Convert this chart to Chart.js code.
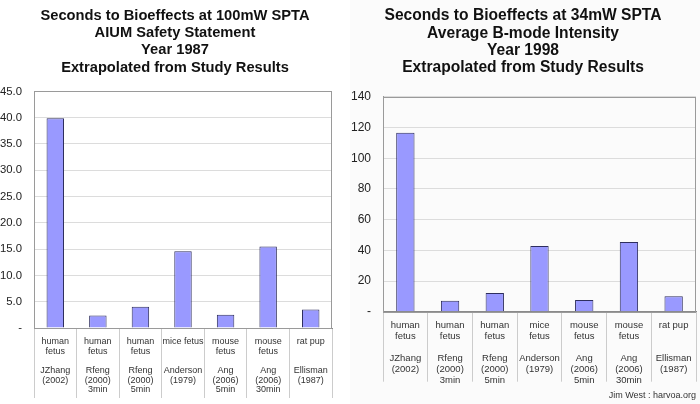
<!DOCTYPE html>
<html>
<head>
<meta charset="utf-8">
<script src="https://cdn.jsdelivr.net/npm/chart.js@4"></script>
<style>
  html, body { margin: 0; padding: 0; background: #ffffff; }
  #wrap { position: relative; width: 700px; height: 404px; overflow: hidden; }
  #c1 { position: absolute; left: 0; top: 0; background: #ffffff; }
  #c2 { position: absolute; left: 350px; top: 0; background: #fbfbfb; }
</style>
</head>
<body>
<div id="wrap">
  <canvas id="c1" width="350" height="404"></canvas>
  <canvas id="c2" width="350" height="404"></canvas>
</div>
<script>
// ---- Data ----
const leftTitle = ["Seconds to Bioeffects at 100mW SPTA", "AIUM Safety Statement", "Year 1987", "Extrapolated from Study Results"];
const rightTitle = ["Seconds to Bioeffects at 34mW SPTA", "Average B-mode Intensity", "Year 1998", "Extrapolated from Study Results"];

const leftCategories = [
  ["human", "fetus", "", "JZhang", "(2002)"],
  ["human", "fetus", "", "Rfeng", "(2000)", "3min"],
  ["human", "fetus", "", "Rfeng", "(2000)", "5min"],
  ["mice fetus", "", "", "Anderson", "(1979)"],
  ["mouse", "fetus", "", "Ang", "(2006)", "5min"],
  ["mouse", "fetus", "", "Ang", "(2006)", "30min"],
  ["rat pup", "", "", "Ellisman", "(1987)"]
];
const rightCategories = [
  ["human", "fetus", "", "JZhang", "(2002)"],
  ["human", "fetus", "", "Rfeng", "(2000)", "3min"],
  ["human", "fetus", "", "Rfeng", "(2000)", "5min"],
  ["mice", "fetus", "", "Anderson", "(1979)"],
  ["mouse", "fetus", "", "Ang", "(2006)", "5min"],
  ["mouse", "fetus", "", "Ang", "(2006)", "30min"],
  ["rat pup", "", "", "Ellisman", "(1987)"]
];

const leftValues = [39.9, 2.4, 4.05, 14.6, 2.5, 15.5, 3.5];
const rightValues = [116.7, 7.2, 12.2, 42.8, 7.6, 45.4, 10.0];

const leftTickLabels = ["-", "5.0", "10.0", "15.0", "20.0", "25.0", "30.0", "35.0", "40.0", "45.0"];
const rightTickLabels = ["-", "20", "40", "60", "80", "100", "120", "140"];
const leftStep = 5;
const rightStep = 20;

const credit = "Jim West : harvoa.org";

// ---- Chart helpers ----
const FONT = "'Liberation Sans', Arial, Helvetica, sans-serif";

const framePlugin = {
  id: 'frame',
  afterDatasetsDraw(chart) {
    const a = chart.chartArea, ctx = chart.ctx;
    ctx.save();
    ctx.strokeStyle = '#9a9a9a';
    ctx.lineWidth = 1;
    ctx.strokeRect(Math.round(a.left) + 0.5, Math.round(a.top) + 0.5,
                   Math.round(a.right - a.left) - 1, Math.round(a.bottom - a.top));
    ctx.restore();
  }
};

function makeChart(id, cfg) {
  return new Chart(document.getElementById(id), {
    type: 'bar',
    data: {
      labels: cfg.categories,
      datasets: [{
        data: cfg.values,
        backgroundColor: '#9999ff',
        borderColor: '#2e2e5e',
        borderWidth: 1,
        borderSkipped: 'bottom',
        categoryPercentage: 1.0,
        barPercentage: 0.41,
        yAxisID: 'y'
      }]
    },
    options: {
      responsive: false,
      animation: false,
      devicePixelRatio: 1,
      layout: { padding: { left: 0, right: cfg.layoutRight, top: 0, bottom: 0 } },
      plugins: {
        legend: { display: false },
        tooltip: { enabled: false },
        title: {
          display: true,
          text: cfg.title,
          color: '#111111',
          font: { family: FONT, size: cfg.titleSize, weight: 'bold', lineHeight: cfg.titleLH },
          padding: { top: cfg.titlePadTop, bottom: cfg.titlePadBottom }
        },
        subtitle: {
          display: !!cfg.credit,
          text: cfg.credit || '',
          position: 'bottom',
          align: 'end',
          color: '#333333',
          font: { family: FONT, size: 9, lineHeight: 1.2 },
          padding: { top: 2, bottom: 3 }
        }
      },
      scales: {
        x: {
          afterFit(s) { s.height = cfg.xHeight; },
          grid: {
            offset: true,
            drawOnChartArea: false,
            drawTicks: true,
            tickLength: 70,
            color: '#cccccc',
            lineWidth: 1
          },
          border: { display: true, color: '#8a8a8a' },
          ticks: {
            color: '#333333',
            padding: cfg.xPad,
            maxRotation: 0,
            autoSkip: false,
            font: { family: FONT, size: cfg.xFontSize, lineHeight: cfg.xLH }
          }
        },
        y: {
          min: 0,
          max: cfg.max,
          afterFit(s) { s.width = cfg.yWidth; },
          grid: { drawTicks: false, color: '#dcdcdc', lineWidth: 1 },
          border: { display: true, color: '#9a9a9a' },
          ticks: {
            stepSize: cfg.step,
            padding: 12,
            color: '#222222',
            font: { family: FONT, size: cfg.yFontSize },
            callback: (v) => cfg.tickLabels[Math.round(v / cfg.step)]
          }
        },
        yr: {
          display: cfg.padRight > 0,
          position: 'right',
          min: 0,
          max: cfg.max,
          afterFit(s) { s.width = cfg.padRight; },
          grid: { display: false },
          border: { display: false },
          ticks: { display: false }
        }
      }
    },
    plugins: [framePlugin]
  });
}

makeChart('c1', {
  categories: leftCategories, values: leftValues, title: leftTitle,
  tickLabels: leftTickLabels, step: leftStep, max: 45,
  titleSize: 14.7, titleLH: 1.18, titlePadTop: 7, titlePadBottom: 15,
  layoutRight: 0, padRight: 18, yWidth: 34, xHeight: 76, xPad: -61,
  xFontSize: 9, xLH: 1.07, yFontSize: 11.3
});

makeChart('c2', {
  categories: rightCategories, values: rightValues, title: rightTitle,
  tickLabels: rightTickLabels, step: rightStep, max: 140,
  titleSize: 15.6, titleLH: 1.12, titlePadTop: 7, titlePadBottom: 20,
  layoutRight: 4, padRight: 0, yWidth: 33, xHeight: 76.5, xPad: -62,
  xFontSize: 9.5, xLH: 1.16, yFontSize: 12,
  credit: credit
});
</script>
</body>
</html>
